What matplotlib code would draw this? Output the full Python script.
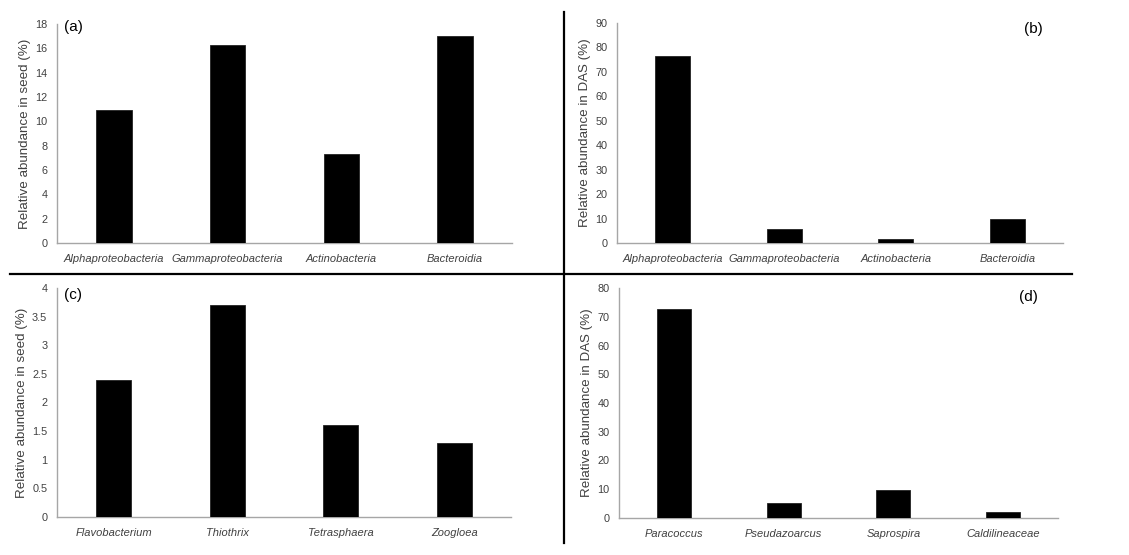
import matplotlib
matplotlib.use("Agg")
import matplotlib.pyplot as plt
from matplotlib.lines import Line2D
from matplotlib.ticker import MultipleLocator, FuncFormatter

plt.rcParams['font.family'] = ['Liberation Sans', 'DejaVu Sans']

# ---- data ----
class_names = ["Alphaproteobacteria", "Gammaproteobacteria", "Actinobacteria", "Bacteroidia"]
seed_class = [10.9, 16.3, 7.3, 17.0]
das_class = [76.7, 5.9, 1.6, 9.7]

genus_seed_names = ["Flavobacterium", "Thiothrix", "Tetrasphaera", "Zoogloea"]
genus_seed = [2.4, 3.7, 1.6, 1.3]

genus_das_names = ["Paracoccus", "Pseudazoarcus", "Saprospira", "Caldilineaceae"]
genus_das = [72.8, 5.2, 9.9, 2.1]

ylabels = ["Relative abundance in seed (%)", "Relative abundance in DAS (%)",
           "Relative abundance in seed (%)", "Relative abundance in DAS (%)"]
panel_tags = ["(a)", "(b)", "(c)", "(d)"]
ymaxes = [18, 90, 4, 80]
ysteps = [2, 10, 0.5, 10]

W, H = 1129, 555
fig = plt.figure(figsize=(W / 100, H / 100), dpi=100)


def rect(left, right, top, bottom):
    return [left / W, (H - bottom) / H, (right - left) / W, (bottom - top) / H]


rects = [rect(57, 512, 24, 243), rect(617, 1063, 23, 243),
         rect(57, 511, 288, 517), rect(619, 1058, 288, 518)]
datasets = [(class_names, seed_class), (class_names, das_class),
            (genus_seed_names, genus_seed), (genus_das_names, genus_das)]
# tag placement in axes fraction (x, y, ha)
tag_pos = [(0.016, 1.02, 'left'), (0.955, 1.005, 'right'),
           (0.016, 1.0, 'left'), (0.955, 0.99, 'right')]

spine_col = '#a6a6a6'
text_col = '#404040'

for i, (r, (names, vals)) in enumerate(zip(rects, datasets)):
    ax = fig.add_axes(r)
    x = list(range(len(names)))
    ax.bar(x, vals, width=0.31, color='black', edgecolor='#222222', linewidth=0.6, zorder=3)
    ax.set_xlim(-0.5, len(names) - 0.5)
    ax.set_ylim(0, ymaxes[i])
    ax.yaxis.set_major_locator(MultipleLocator(ysteps[i]))
    ax.yaxis.set_major_formatter(FuncFormatter(lambda v, p: f"{v:g}"))
    ax.set_xticks(x)
    ax.set_xticklabels(names, fontstyle='italic', fontsize=8, color=text_col)
    ax.tick_params(axis='both', length=0, colors=text_col)
    ax.tick_params(axis='y', labelsize=7.8, pad=7)
    ax.tick_params(axis='x', pad=8)
    for s in ['top', 'right']:
        ax.spines[s].set_visible(False)
    for s in ['left', 'bottom']:
        ax.spines[s].set_color(spine_col)
        ax.spines[s].set_linewidth(1.0)
    ax.set_ylabel(ylabels[i], fontsize=9.6, color=text_col, labelpad=3)
    xp, yp, ha = tag_pos[i]
    ax.text(xp, yp, panel_tags[i], transform=ax.transAxes,
            ha=ha, va='top', fontsize=11, color='black')

# divider lines
fig.add_artist(Line2D([10 / W, 1072 / W], [(H - 274) / H, (H - 274) / H],
                      color='black', linewidth=1.6, transform=fig.transFigure))
fig.add_artist(Line2D([564 / W, 564 / W], [(H - 12) / H, (H - 543) / H],
                      color='black', linewidth=1.6, transform=fig.transFigure))

fig.savefig("out.png", dpi=100, facecolor='white')
